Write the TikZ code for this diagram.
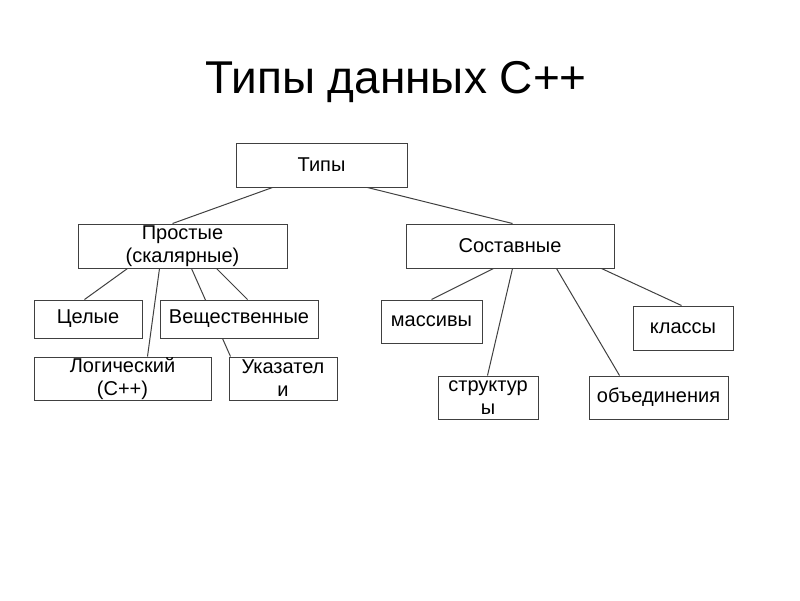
\documentclass[tikz,border=0pt]{standalone}
\usepackage{fontspec}
\setmainfont{Liberation Sans}
\usetikzlibrary{positioning, backgrounds}

\begin{document}
\begin{tikzpicture}[x=1pt,y=-1pt,
  box/.style={draw=black!75, fill=white, line width=1pt, inner sep=0pt, align=center, font=\fontsize{20}{23}\selectfont},
  link/.style={draw=black!75, line width=1pt}]
\useasboundingbox (0,0) rectangle (800,600);

% Title
\node[anchor=base] (title) at (396,93) {\fontsize{46}{55}\selectfont Типы данных С++};

% Root and the two groups
\node[box, minimum width=171pt, minimum height=44pt] (tipy) at (321.5,165) {Типы};
\node[box, minimum width=209pt, minimum height=44pt] (prostye) at (182.5,246) {Простые\\(скалярные)};
\node[box, minimum width=208pt, minimum height=44pt] (sostav) at (510,246) {Составные};

% Simple types
\node[box, minimum width=108pt, minimum height=38pt] (celye) at (88,319) {Целые};
\node[box, minimum width=158pt, minimum height=38pt] (veshch) at (239,319) {Вещественные};
\node[box, minimum width=177pt, minimum height=43pt] (logich) at (122.5,378.5) {Логический\\(С++)};
\node[box, minimum width=108pt, minimum height=43pt] (ukaz) at (283,378.5) {Указател\\и};

% Compound types
\node[box, minimum width=101pt, minimum height=43pt] (massivy) at (431.5,321.5) {массивы};
\node[box, minimum width=100pt, minimum height=43pt] (struct) at (488,397.5) {структур\\ы};
\node[box, minimum width=139pt, minimum height=43pt] (obed) at (658.5,397.5) {объединения};
\node[box, minimum width=100pt, minimum height=44pt] (klassy) at (683,328) {классы};

% Links (behind the boxes)
\begin{scope}[on background layer]
\draw[link] ([xshift=37pt]tipy.south west) -- ([xshift=95pt]prostye.north west);
\draw[link] ([xshift=132pt]tipy.south west) -- ([xshift=107pt]sostav.north west);
\draw[link] ([xshift=50pt]prostye.south west) -- ([xshift=51pt]celye.north west);
\draw[link] ([xshift=82pt]prostye.south west) -- ([xshift=114pt]logich.north west);
\draw[link] ([xshift=114pt]prostye.south west) -- ([xshift=2pt]ukaz.north west);
\draw[link] ([xshift=139pt]prostye.south west) -- ([xshift=88pt]veshch.north west);
\draw[link] ([xshift=88pt]sostav.south west) -- ([xshift=51pt]massivy.north west);
\draw[link] ([xshift=107pt]sostav.south west) -- ([xshift=50pt]struct.north west);
\draw[link] ([xshift=151pt]sostav.south west) -- ([xshift=31pt]obed.north west);
\draw[link] ([xshift=196pt]sostav.south west) -- ([xshift=49pt]klassy.north west);
\end{scope}
\end{tikzpicture}
\end{document}
